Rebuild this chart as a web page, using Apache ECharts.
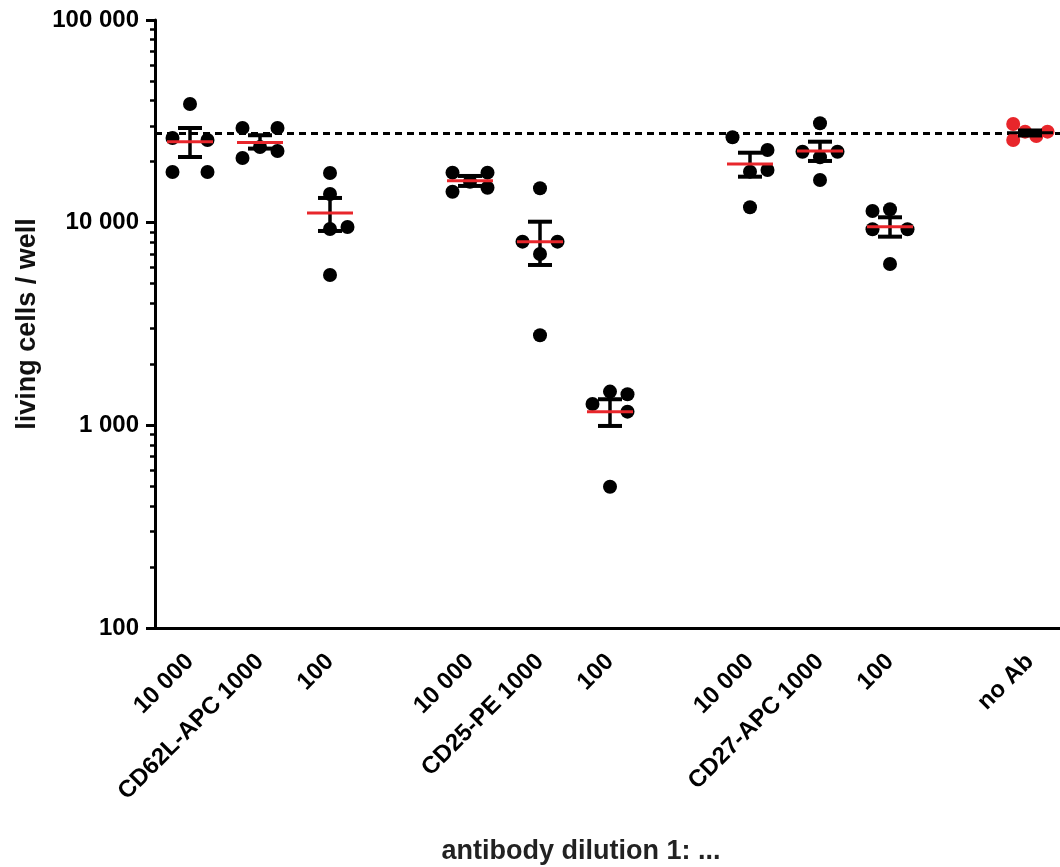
<!DOCTYPE html>
<html>
<head>
<meta charset="utf-8">
<script src="https://cdn.jsdelivr.net/npm/echarts@6/dist/echarts.min.js"></script>
<style>
  html, body { margin: 0; padding: 0; background: #fff; }
  #container { width: 1060px; height: 867px; }
</style>
</head>
<body>
<div id="container"></div>
<script>
// x slots: 13 ticks, gaps between the antibody groups
var slotLabels = ['10 000', 'CD62L-APC 1000', '100', '', '10 000', 'CD25-PE 1000', '100', '', '10 000', 'CD27-APC 1000', '100', '', 'no Ab'];
var groupPos = [0, 1, 2, 4, 5, 6, 8, 9, 10];

// living cells per well, 5 wells per group
var cellCounts = [
    [38500, 26180, 25580, 17780, 17780],
    [29320, 29320, 20850, 23620, 22580],
    [17590, 13850, 9310, 9520, 5520],
    [17650, 17650, 14220, 14880, 15930],
    [14780, 8060, 8060, 7007, 2782],
    [1467, 1424, 1275, 1168, 498],
    [26380, 22840, 18200, 17850, 11910],
    [30930, 22400, 22400, 21020, 16240],
    [11420, 11650, 9278, 9278, 6256]
];
// horizontal spread of the dots (in slot units)
var jitter = [
    [0, -0.25, 0.25, -0.25, 0.25],
    [-0.25, 0.25, -0.25, 0, 0.25],
    [0, 0, 0, 0.25, 0],
    [-0.25, 0.25, -0.25, 0.25, 0],
    [0, -0.25, 0.25, 0, 0],
    [0, 0.25, -0.25, 0.25, 0],
    [-0.25, 0.25, 0.25, 0, 0],
    [0, -0.25, 0.25, 0, 0],
    [-0.25, 0, -0.25, 0.25, 0]
];
var groupMean = [25100, 24870, 11160, 16110, 8060, 1168, 19480, 22580, 9556];
var semLow = [21090, 23200, 9100, 15180, 6184, 993, 16860, 20160, 8530];
var semHigh = [29320, 27000, 13240, 17000, 10110, 1345, 22140, 25090, 10630];

// no antibody control
var ctrlPos = 12;
var ctrlCounts = [30690, 25580, 28120, 26780, 28120];
var ctrlJitter = [-0.24, -0.24, -0.07, 0.09, 0.25];
var ctrlMean = 27800;
var ctrlSemLow = 26930;
var ctrlSemHigh = 28500;
var baseline = 27700;

var yMinorTicks = [200, 300, 400, 500, 600, 700, 800, 900,
    2000, 3000, 4000, 5000, 6000, 7000, 8000, 9000,
    20000, 30000, 40000, 50000, 60000, 70000, 80000, 90000];

var font = "'Liberation Sans', Arial, Helvetica, sans-serif";

var dots = [], meanData = [], errData = [];
groupPos.forEach(function (pos, g) {
    cellCounts[g].forEach(function (v, i) {
        dots.push([pos + jitter[g][i], v]);
    });
    meanData.push([pos, groupMean[g], 0]);
    errData.push([pos, semLow[g], semHigh[g]]);
});
var ctrlDots = ctrlCounts.map(function (v, i) { return [ctrlPos + ctrlJitter[i], v]; });
meanData.push([ctrlPos, ctrlMean, 1]);
errData.push([ctrlPos, ctrlSemLow, ctrlSemHigh]);

function fmt(v) {
    return String(Math.round(v)).replace(/\B(?=(\d{3})+(?!\d))/g, ' ');
}

var myChart = echarts.init(document.getElementById('container'));
var option = {
    animation: false,
    grid: { left: 155, top: 20, width: 910, height: 608, outerBoundsMode: 'none', containLabel: false },
    xAxis: [
        {
            type: 'category',
            data: slotLabels.map(function (s, i) { return String(i); }),
            boundaryGap: true,
            axisLine: { onZero: false, lineStyle: { color: '#000', width: 3 } },
            axisTick: { alignWithLabel: true, length: 8, lineStyle: { color: '#000', width: 3 } },
            axisLabel: {
                interval: 0, rotate: 45, margin: 30,
                color: '#000', fontWeight: 'bold', fontSize: 24, fontFamily: font,
                formatter: function (val, idx) { return slotLabels[idx]; }
            },
            splitLine: { show: false },
            name: 'antibody dilution 1: ...',
            nameLocation: 'middle',
            nameGap: 210,
            nameTextStyle: { color: '#222', fontWeight: 'bold', fontSize: 27, fontFamily: font, padding: [0, 58, 0, 0] }
        },
        {
            type: 'value', min: -0.5, max: 12.5, show: false,
            axisLine: { onZero: false }
        }
    ],
    yAxis: [
        {
            type: 'log', logBase: 10, min: 100, max: 100000, position: 'left',
            axisLine: { show: true, onZero: false, lineStyle: { color: '#000', width: 3 } },
            axisTick: { show: true, length: 9, lineStyle: { color: '#000', width: 3 } },
            axisLabel: { margin: 16, color: '#000', fontWeight: 'bold', fontSize: 24, fontFamily: font, formatter: fmt },
            splitLine: { show: false },
            minorTick: { show: false },
            name: 'living cells / well',
            nameLocation: 'middle',
            nameGap: 112,
            nameTextStyle: { color: '#111', fontWeight: 'bold', fontSize: 27, fontFamily: font }
        },
        {
            type: 'log', logBase: 10, min: 100, max: 100000, position: 'left',
            axisLine: { show: false, onZero: false },
            axisTick: { show: true, length: 5, customValues: yMinorTicks, lineStyle: { color: '#000', width: 2.5 } },
            axisLabel: { show: false },
            splitLine: { show: false }
        }
    ],
    series: [
        {
            name: 'cells',
            type: 'scatter',
            xAxisIndex: 1, yAxisIndex: 0,
            symbolSize: 14,
            itemStyle: { color: '#000', opacity: 1 },
            data: dots,
            z: 3,
            markLine: {
                silent: true,
                symbol: ['none', 'none'],
                label: { show: false },
                lineStyle: { color: '#000', width: 3, type: [7, 5] },
                data: [{ yAxis: baseline }],
                z: 1
            }
        },
        {
            name: 'no Ab',
            type: 'scatter',
            xAxisIndex: 1, yAxisIndex: 0,
            symbolSize: 14,
            itemStyle: { color: '#e8262b', opacity: 1 },
            data: ctrlDots,
            z: 3
        },
        {
            name: 'sem',
            type: 'custom',
            xAxisIndex: 1, yAxisIndex: 0,
            encode: { x: 0, y: [1, 2] },
            data: errData,
            z: 4,
            renderItem: function (params, api) {
                var x = api.value(0);
                var lo = api.coord([x, api.value(1)]);
                var hi = api.coord([x, api.value(2)]);
                var cw = 12;
                var st = { stroke: '#000', lineWidth: 3.5 };
                return {
                    type: 'group',
                    children: [
                        { type: 'line', shape: { x1: hi[0], y1: hi[1], x2: lo[0], y2: lo[1] }, style: st },
                        { type: 'line', shape: { x1: hi[0] - cw, y1: hi[1], x2: hi[0] + cw, y2: hi[1] }, style: { stroke: '#000', lineWidth: 4 } },
                        { type: 'line', shape: { x1: lo[0] - cw, y1: lo[1], x2: lo[0] + cw, y2: lo[1] }, style: { stroke: '#000', lineWidth: 4 } }
                    ]
                };
            }
        },
        {
            name: 'mean',
            type: 'custom',
            xAxisIndex: 1, yAxisIndex: 0,
            encode: { x: 0, y: 1 },
            data: meanData,
            z: 5,
            renderItem: function (params, api) {
                var p = api.coord([api.value(0), api.value(1)]);
                var hw = 23;
                return {
                    type: 'line',
                    shape: { x1: p[0] - hw, y1: p[1], x2: p[0] + hw, y2: p[1] },
                    style: { stroke: api.value(2) ? '#000' : '#e8262b', lineWidth: 3 }
                };
            }
        }
    ]
};
myChart.setOption(option);
</script>
</body>
</html>
